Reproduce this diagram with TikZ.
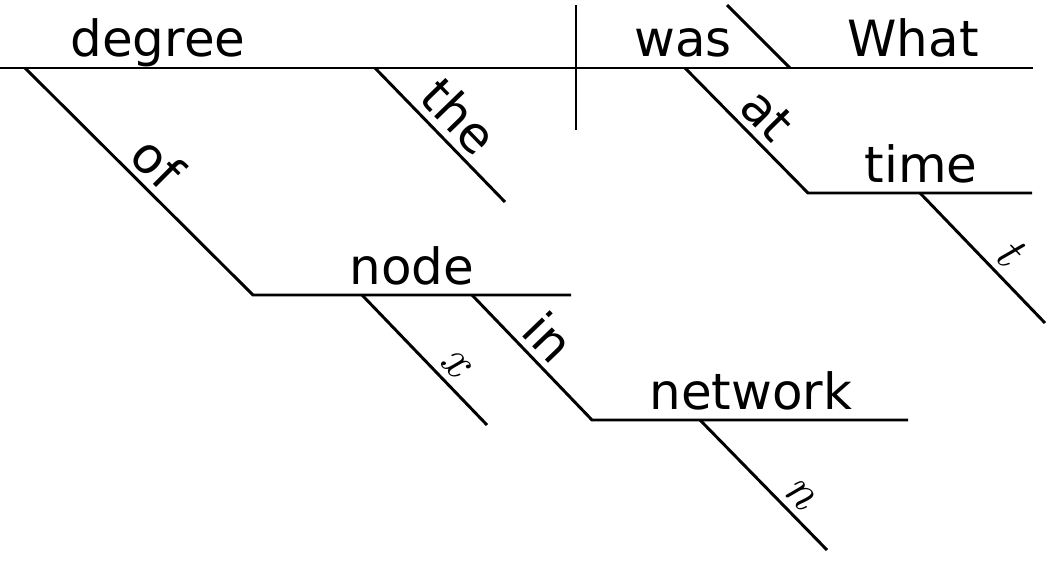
\documentclass[tikz,border=0pt]{standalone}
\usepackage{fontspec}
\setmainfont{DejaVu Sans}
\newfontfamily\varfont{lmroman10-italic.otf}

\begin{document}
\begin{tikzpicture}[x=0.025cm, y=-0.025cm, line width=2.1pt,
  word/.style={font=\fontsize{35.5}{40}\selectfont, inner sep=2pt},
  mod/.style={word, sloped, above, inner sep=4.5pt},
  var/.style={mod, font=\fontsize{36}{40}\varfont}]
\useasboundingbox (0,0) rectangle (1048,578);
% subject and predicate line
\coordinate (base0) at (0,68);
\coordinate (base1) at (1033,68);
\draw (base0) -- (base1);
\node[word, anchor=base] (degree) at (158,57) {degree};
\node[word, anchor=base] (was) at (683,57) {was};
\node[word, anchor=base] (what) at (913,57) {What};
% dividers
\coordinate (div0) at (576,5);
\coordinate (div1) at (576,130);
\draw (div0) -- (div1);
\coordinate (cmp0) at (727,5);
\coordinate (cmp1) at (790,68);
\draw (cmp0) -- (cmp1);
% the
\coordinate (the0) at (375,68);
\coordinate (the1) at (505,202);
\draw (the0) -- (the1) node[mod, pos=0.5] (the) {the};
% of node
\coordinate (of0) at (25,68);
\coordinate (of1) at (253,295);
\coordinate (nodeend) at (571,295);
\draw (of0) -- (of1) node[mod, pos=0.5] (of) {of} -- (nodeend);
\node[word, anchor=base] (node) at (412,284) {node};
\coordinate (x0) at (362,295);
\coordinate (x1) at (487,425);
\draw (x0) -- (x1) node[var, pos=0.63] (x) {x};
% in network
\coordinate (in0) at (472,295);
\coordinate (in1) at (592,420);
\coordinate (netend) at (908,420);
\draw (in0) -- (in1) node[mod, pos=0.48] (in) {in} -- (netend);
\node[word, anchor=base] (network) at (751,409) {network};
\coordinate (n0) at (700,420);
\coordinate (n1) at (827,550);
\draw (n0) -- (n1) node[var, pos=0.67] (n) {n};
% at time
\coordinate (at0) at (685,68);
\coordinate (at1) at (808,193);
\coordinate (timeend) at (1032,193);
\draw (at0) -- (at1) node[mod, pos=0.52] (at) {at} -- (timeend);
\node[word, anchor=base] (time) at (921,182) {time};
\coordinate (t0) at (920,193);
\coordinate (t1) at (1045,323);
\draw (t0) -- (t1) node[var, pos=0.58] (t) {t};
\end{tikzpicture}
\end{document}
